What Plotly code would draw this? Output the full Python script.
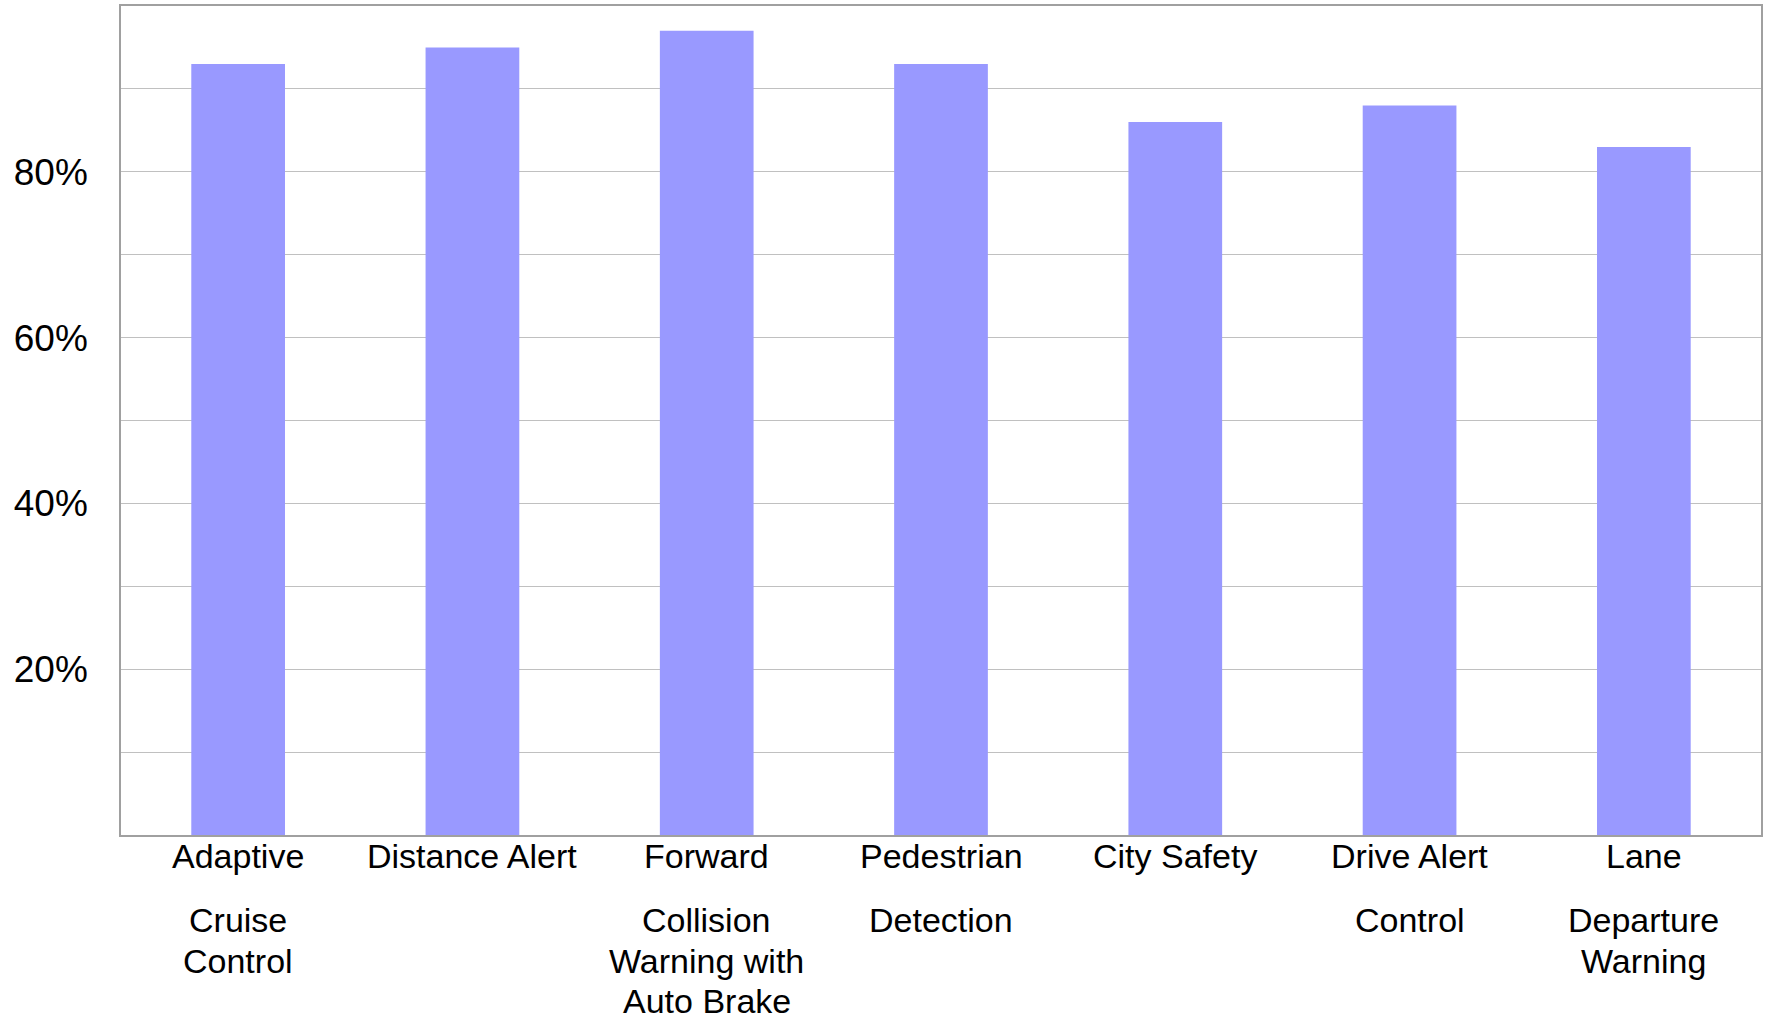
import plotly.graph_objects as go

categories = [
    "Adaptive Cruise Control",
    "Distance Alert",
    "Forward Collision Warning with Auto Brake",
    "Pedestrian Detection",
    "City Safety",
    "Drive Alert Control",
    "Lane Departure Warning",
]
label_lines = [
    ["Adaptive", "Cruise", "Control"],
    ["Distance Alert"],
    ["Forward", "Collision", "Warning with", "Auto Brake"],
    ["Pedestrian", "Detection"],
    ["City Safety"],
    ["Drive Alert", "Control"],
    ["Lane", "Departure", "Warning"],
]
values = [93, 95, 97, 93, 86, 88, 83]
y_tickvals = [10, 20, 30, 40, 50, 60, 70, 80, 90]
y_ticktext = ["", "20%", "", "40%", "", "60%", "", "80%", ""]

FONT = "Liberation Sans, Arial, sans-serif"
W, H = 1766, 1017
M_L, M_R, M_T, M_B = 121, 3, 6, 182
line_shifts = [-21, -85, -126, -166]

fig = go.Figure()
fig.add_trace(go.Bar(
    x=categories, y=values,
    marker=dict(color="#9999FF", line=dict(width=0)),
    hoverinfo="x+y",
))

annotations = []
for cat, lines in zip(categories, label_lines):
    for i, ln in enumerate(lines):
        annotations.append(dict(
            x=cat, xref="x", y=0, yref="paper",
            yshift=line_shifts[i], yanchor="middle", xanchor="center",
            text=ln, showarrow=False,
            font=dict(family=FONT, size=34, color="#000000"),
        ))

fig.update_layout(
    width=W, height=H,
    margin=dict(l=M_L, r=M_R, t=M_T, b=M_B, pad=0),
    paper_bgcolor="#FFFFFF", plot_bgcolor="#FFFFFF",
    bargap=0.6,
    showlegend=False,
    annotations=annotations,
    font=dict(family=FONT, color="#000000"),
)
fig.update_xaxes(
    type="category", showticklabels=False, ticks="",
    showline=True, linecolor="#A0A0A0", linewidth=1.5, mirror=True,
    showgrid=False, zeroline=False,
)
fig.update_yaxes(
    range=[0, 100], tickvals=y_tickvals, ticktext=y_ticktext,
    ticks="", ticklabelstandoff=24,
    tickfont=dict(family=FONT, size=37, color="#000000"),
    showline=True, linecolor="#A0A0A0", linewidth=1.5, mirror=True,
    showgrid=True, gridcolor="#C0C0C0", gridwidth=1, zeroline=False,
)
fig.write_html(
    "out.html",
    config={"displayModeBar": False},
    post_script="document.body.style.margin='0px';document.body.style.overflow='hidden';",
)
